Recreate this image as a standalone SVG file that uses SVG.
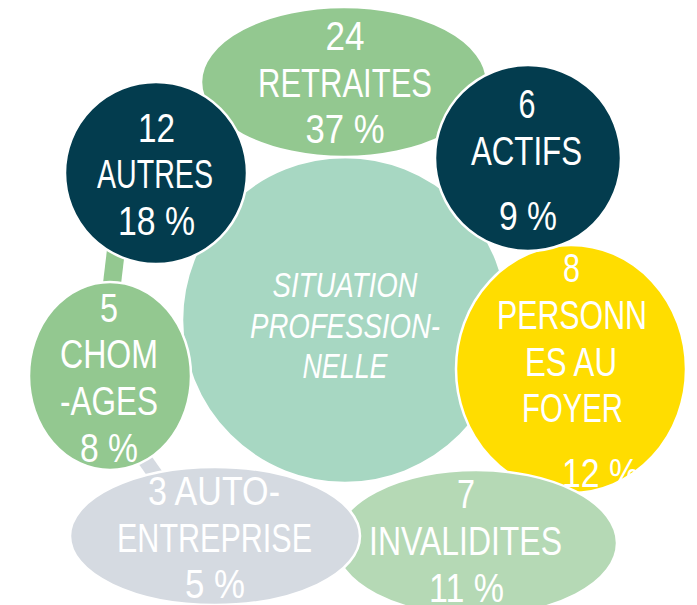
<svg xmlns="http://www.w3.org/2000/svg" width="697" height="605" viewBox="0 0 697 605">
<style>
.n{stroke:#fff;stroke-width:2.5}
.t{font-family:"Liberation Sans Narrow","Liberation Sans",Arial,sans-serif;font-size:41px;fill:#fff;text-anchor:middle}
.c{font-size:35px;font-style:italic}
</style>
<rect width="697" height="605" fill="#fff"/>
<g id="connectors">
<line x1="116" y1="250" x2="111" y2="292" stroke="#93C890" stroke-width="18"/>
<line x1="138" y1="450" x2="162" y2="484" stroke="#D5DAE1" stroke-width="15"/>
</g>
<g id="center">
<circle class="n" cx="345" cy="320" r="163" fill="#A7D7C2"/>
<text class="t c" x="345" y="297" textLength="145" lengthAdjust="spacingAndGlyphs">SITUATION</text>
<text class="t c" x="345" y="338" textLength="190" lengthAdjust="spacingAndGlyphs">PROFESSION-</text>
<text class="t c" x="345" y="378" textLength="85" lengthAdjust="spacingAndGlyphs">NELLE</text>
</g>
<g id="retraites">
<ellipse class="n" cx="344" cy="82" rx="143" ry="75" fill="#93C890"/>
<text class="t" x="345" y="50" textLength="39" lengthAdjust="spacingAndGlyphs">24</text>
<text class="t" x="345" y="97" textLength="174" lengthAdjust="spacingAndGlyphs">RETRAITES</text>
<text class="t" x="345" y="143" textLength="79" lengthAdjust="spacingAndGlyphs">37 %</text>
</g>
<g id="autres">
<circle class="n" cx="156" cy="173" r="91" fill="#033C4E"/>
<text class="t" x="156.5" y="142" textLength="37" lengthAdjust="spacingAndGlyphs">12</text>
<text class="t" x="155" y="188" textLength="116" lengthAdjust="spacingAndGlyphs">AUTRES</text>
<text class="t" x="156.5" y="235" textLength="77" lengthAdjust="spacingAndGlyphs">18 %</text>
</g>
<g id="personnes-au-foyer">
<ellipse class="n" cx="571" cy="369" rx="115" ry="124" fill="#FFDD00"/>
<text class="t" x="571.5" y="282" textLength="17" lengthAdjust="spacingAndGlyphs">8</text>
<text class="t" x="572" y="329" textLength="150" lengthAdjust="spacingAndGlyphs">PERSONN</text>
<text class="t" x="571" y="376" textLength="92" lengthAdjust="spacingAndGlyphs">ES AU</text>
<text class="t" x="572.5" y="422" textLength="101" lengthAdjust="spacingAndGlyphs">FOYER</text>
<text class="t" x="600.5" y="487" textLength="77" lengthAdjust="spacingAndGlyphs">12 %</text>
</g>
<g id="actifs">
<circle class="n" cx="528" cy="158" r="93" fill="#033C4E"/>
<text class="t" x="527" y="118" textLength="17" lengthAdjust="spacingAndGlyphs">6</text>
<text class="t" x="526.5" y="165" textLength="111" lengthAdjust="spacingAndGlyphs">ACTIFS</text>
<text class="t" x="528" y="230" textLength="58" lengthAdjust="spacingAndGlyphs">9 %</text>
</g>
<g id="chomages">
<ellipse class="n" cx="110" cy="376" rx="81" ry="94" fill="#93C890"/>
<text class="t" x="109" y="322" textLength="18" lengthAdjust="spacingAndGlyphs">5</text>
<text class="t" x="109" y="368" textLength="98" lengthAdjust="spacingAndGlyphs">CHOM</text>
<text class="t" x="109" y="415" textLength="98" lengthAdjust="spacingAndGlyphs">-AGES</text>
<text class="t" x="109" y="462" textLength="58" lengthAdjust="spacingAndGlyphs">8 %</text>
</g>
<g id="invalidites">
<ellipse class="n" cx="476" cy="543" rx="141" ry="73" fill="#B5D9B5"/>
<text class="t" x="466" y="508" textLength="18" lengthAdjust="spacingAndGlyphs">7</text>
<text class="t" x="465.5" y="555" textLength="193" lengthAdjust="spacingAndGlyphs">INVALIDITES</text>
<text class="t" x="466.5" y="602" textLength="75" lengthAdjust="spacingAndGlyphs">11 %</text>
</g>
<g id="auto-entreprise">
<ellipse class="n" cx="215" cy="536" rx="145" ry="69" fill="#D5DAE1"/>
<text class="t" x="214" y="505" textLength="132" lengthAdjust="spacingAndGlyphs">3 AUTO-</text>
<text class="t" x="214.5" y="552" textLength="195" lengthAdjust="spacingAndGlyphs">ENTREPRISE</text>
<text class="t" x="215" y="598" textLength="60" lengthAdjust="spacingAndGlyphs">5 %</text>
</g>
</svg>
